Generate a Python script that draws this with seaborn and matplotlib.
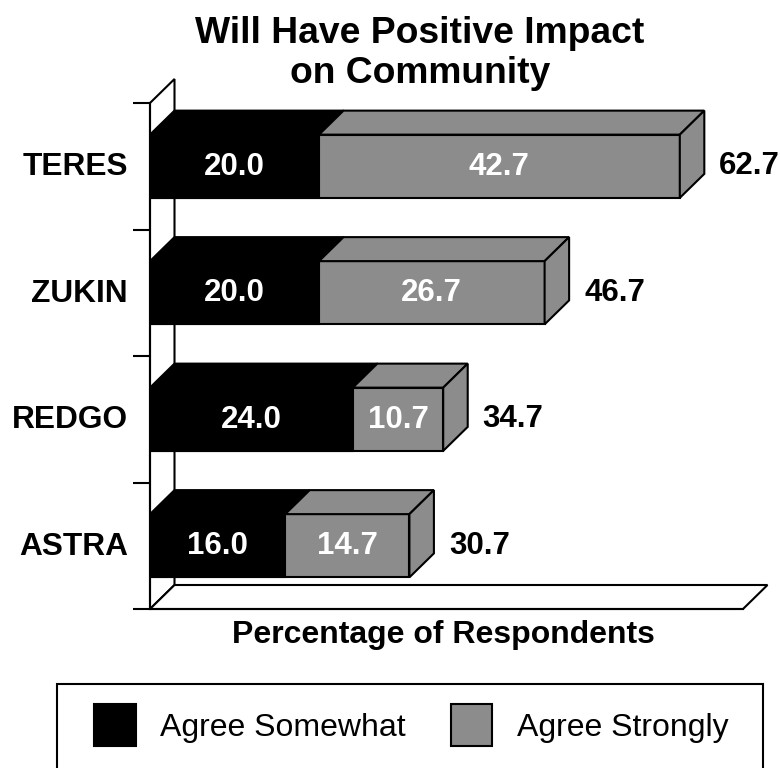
import matplotlib
matplotlib.use("Agg")
import matplotlib.pyplot as plt
from matplotlib.patches import Polygon, Rectangle
from matplotlib.transforms import ScaledTranslation
import pandas as pd
import seaborn as sns

brands = ["TERES", "ZUKIN", "REDGO", "ASTRA"]
somewhat = [20.0, 20.0, 24.0, 16.0]
strongly = [42.7, 26.7, 10.7, 14.7]
totals = [62.7, 46.7, 34.7, 30.7]
legend_labels = ["Agree Somewhat", "Agree Strongly"]

GRAY = "#8c8c8c"
W, H = 780, 768
LW = 1.5

sns.set_theme(style="white")
plt.rcParams["font.family"] = ["Liberation Sans", "DejaVu Sans"]

df = pd.DataFrame({"brand": brands, "somewhat": somewhat, "total": totals})

fig = plt.figure(figsize=(W / 100, H / 100), dpi=100)
ax = fig.add_axes([150 / W, 1 - 609 / H, (743 - 150) / W, (609 - 103) / H])

# stacked look: totals first, the first segment on top
sns.barplot(data=df, x="total", y="brand", order=brands, color=GRAY, saturation=1,
            width=0.5, edgecolor="black", linewidth=LW, ax=ax, zorder=3)
n_gray = len(ax.patches)
sns.barplot(data=df, x="somewhat", y="brand", order=brands, color="black", saturation=1,
            width=0.5, edgecolor="black", linewidth=LW, ax=ax, zorder=3)

ax.set_xlim(0, 593 / 8.45)
ax.set_ylim(3.5, -0.5)

# depth of the fake 3d, in data units
px_x = ax.get_xlim()[1] / 593
px_y = 4 / 506
dx = 24.5 * px_x
dy = 24 * px_y

xmax = ax.get_xlim()[1]

# back wall and floor
ax.add_patch(Polygon([(0, 3.5), (0, -0.5), (dx, -0.5 - dy), (dx, 3.5 - dy)], closed=True,
                     facecolor="white", edgecolor="black", lw=LW, clip_on=False, zorder=1))
ax.add_patch(Polygon([(0, 3.5), (dx, 3.5 - dy), (xmax + dx, 3.5 - dy), (xmax, 3.5)], closed=True,
                     facecolor="white", edgecolor="black", lw=LW, clip_on=False, zorder=1))

# top and side faces
for i, brand in enumerate(brands):
    gray_bar = ax.patches[i]
    top = min(gray_bar.get_y(), gray_bar.get_y() + gray_bar.get_height())
    bottom = top + gray_bar.get_height()
    a = somewhat[i]
    t = totals[i]
    ax.add_patch(Polygon([(0, top), (dx, top - dy), (a + dx, top - dy), (a, top)], closed=True,
                         facecolor="black", edgecolor="black", lw=LW, clip_on=False, zorder=4))
    ax.add_patch(Polygon([(a, top), (a + dx, top - dy), (t + dx, top - dy), (t, top)], closed=True,
                         facecolor=GRAY, edgecolor="black", lw=LW, clip_on=False, zorder=4))
    ax.add_patch(Polygon([(t, top), (t + dx, top - dy), (t + dx, bottom - dy), (t, bottom)], closed=True,
                         facecolor=GRAY, edgecolor="black", lw=LW, clip_on=False, zorder=4))
    ax.text(a / 2, i + 0.002, f"{a:.1f}", color="white", fontsize=22.5, fontweight="bold",
            ha="center", va="center", zorder=5)
    ax.text(a + strongly[i] / 2, i + 0.002, f"{strongly[i]:.1f}", color="white", fontsize=22.5,
            fontweight="bold", ha="center", va="center", zorder=5)
    ax.text(t + dx + 15 * px_x, i, f"{t:.1f}", color="black", fontsize=22.5,
            fontweight="bold", ha="left", va="center", zorder=5, clip_on=False)

# axes
sns.despine(ax=ax, top=True, right=True)
for s in ["left", "bottom"]:
    ax.spines[s].set_linewidth(LW)
    ax.spines[s].set_color("black")
    ax.spines[s].set_zorder(2)
ax.set_xticks([])
ax.set_yticks([-0.5, 0.5, 1.5, 2.5, 3.5], minor=True)
ax.tick_params(axis="y", which="minor", left=True, length=12.2, width=LW, color="black")
ax.tick_params(axis="y", which="major", left=False, pad=10)
ax.set_yticklabels(brands, fontsize=22.8, fontweight="bold", color="black")
for lab in ax.get_yticklabels():
    lab.set_transform(lab.get_transform() + ScaledTranslation(0, 2.5 / 100, fig.dpi_scale_trans))
ax.set_ylabel("")
ax.set_xlabel("Percentage of Respondents", fontsize=23, fontweight="bold", color="black")
ax.xaxis.set_label_coords((443 - 150) / 593, -(11 / 506))
ax.set_title("Will Have Positive Impact\non Community", fontsize=26.8, fontweight="bold",
             color="black", x=(420 - 150) / 593, y=1 + (103 - 91) / 506, linespacing=1.16)


def box(x0, y0, x1, y1, **kw):
    fig.add_artist(Rectangle((x0 / W, 1 - y1 / H), (x1 - x0) / W, (y1 - y0) / H,
                             transform=fig.transFigure, **kw))


# legend
box(57, 684, 763, 790, facecolor="white", edgecolor="black", lw=LW)
box(94, 704, 136, 746, facecolor="black", edgecolor="black", lw=LW)
box(451, 704, 492, 746, facecolor=GRAY, edgecolor="black", lw=LW)
fig.text(160 / W, 1 - 728 / H, legend_labels[0], fontsize=23, color="black", va="center", ha="left")
fig.text(517 / W, 1 - 728 / H, legend_labels[1], fontsize=23, color="black", va="center", ha="left")

fig.savefig("out.png", dpi=100)
